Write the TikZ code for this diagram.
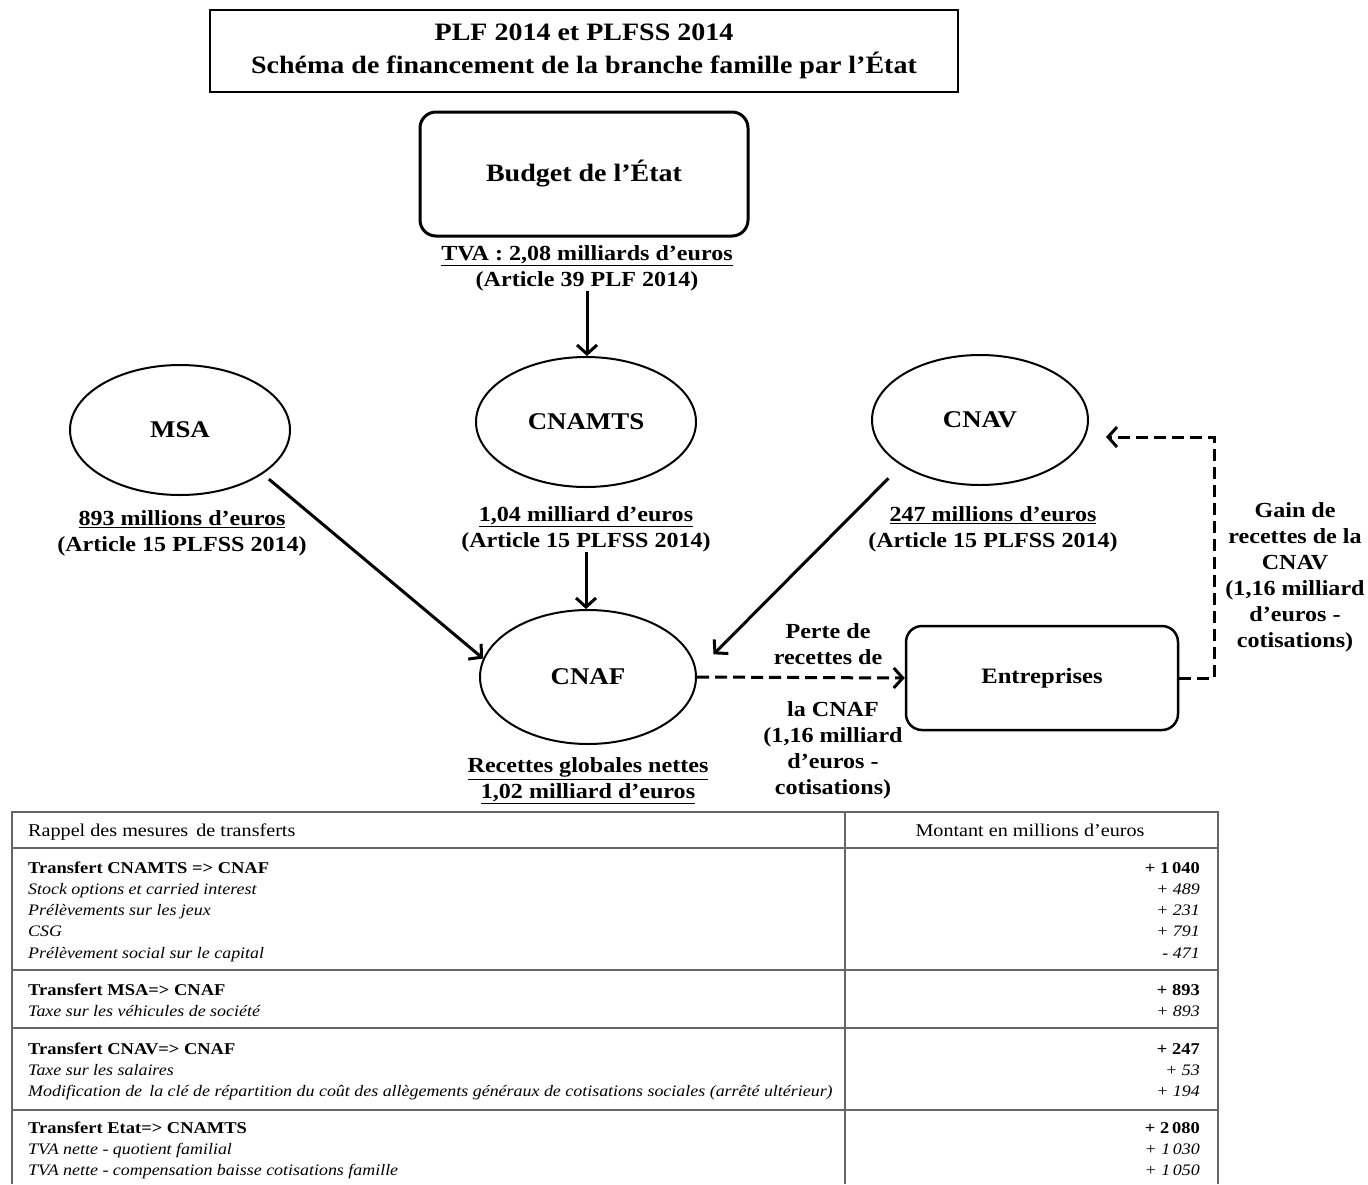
\documentclass[tikz,border=0pt]{standalone}
\usepackage{fontspec}
\setmainfont[FakeStretch=1.12]{Liberation Serif}
\usetikzlibrary{shapes.geometric,arrows.meta,positioning}
\tikzset{oval/.style={ellipse, draw, line width=2pt,
         minimum width=220pt, minimum height=130pt,
         font=\fontsize{24}{30}\selectfont\bfseries}}
\tikzset{roundbox/.style={draw, rounded corners=16pt,
         font=\fontsize{25}{30}\selectfont\bfseries}}
\tikzset{lbl/.style={align=center, inner sep=0pt,
         font=\fontsize{21.5}{26}\selectfont\bfseries}}
\tikzset{flow/.style={line width=3pt,
         -{Straight Barb[length=9pt,width=20pt,line width=3pt]}}}
\tikzset{dflow/.style={flow, dash pattern=on 12pt off 6pt}}
\tikzset{cell/.style={anchor=base west, inner sep=0pt,
         font=\fontsize{16}{20}\selectfont}}
\tikzset{cellval/.style={anchor=base east, inner sep=0pt,
         font=\fontsize{16}{20}\selectfont}}

\begin{document}
\begin{tikzpicture}[x=1pt,y=-1pt]
\useasboundingbox (0,0) rectangle (1368,1184);

\node [draw, line width=1.5pt, minimum width=748pt, minimum height=82pt,
       align=center, font=\fontsize{25}{33}\selectfont\bfseries] (title) at (584,51)
      {PLF 2014 et PLFSS 2014\\Schéma de financement de la branche famille par l’État};

\node [roundbox, line width=3pt, minimum width=328pt, minimum height=124pt] (etat) at (584,174) {Budget de l’État};
\node [lbl] (tva) at (587,268) {\underline{TVA : 2,08 milliards d’euros}\\(Article 39 PLF 2014)};

\node [oval] (msa) at (180,430) {MSA};
\node [oval] (cnamts) at (586,422) {CNAMTS};
\node [oval, minimum width=216pt] (cnav) at (980,420) {CNAV};
\node [oval, minimum width=216pt, minimum height=134pt] (cnaf) at (588,677) {CNAF};
\node [roundbox, line width=2.5pt, minimum width=272pt, minimum height=104pt,
       font=\fontsize{22}{28}\selectfont\bfseries] (ent) at (1042,678) {Entreprises};

\node [lbl] (msal) at (182,533) {\underline{893 millions d’euros}\\(Article 15 PLFSS 2014)};
\node [lbl] (cnamtsl) at (586,529) {\underline{1,04 milliard d’euros}\\(Article 15 PLFSS 2014)};
\node [lbl] (cnavl) at (993,529) {\underline{247 millions d’euros}\\(Article 15 PLFSS 2014)};
\node [lbl] (cnafl) at (588,781) {\underline{Recettes globales nettes}\\\underline{1,02 milliard d’euros}};

\node [lbl] (perte) at (828,644) {Perte de\\recettes de};
\node [lbl] (perte2) at (833,750) {la CNAF\\(1,16 milliard\\d’euros -\\cotisations)};
\node [lbl] (gain) at (1295,577) {Gain de\\recettes de la\\CNAV\\(1,16 milliard\\d’euros -\\cotisations)};
\coordinate (turn) at (1214,437);

% flux
\draw [flow] (tva.south) -- (tva.south |- cnamts.north);
\draw [flow, shorten <=8pt] (msa.-28) -- (cnaf.170);
\draw [flow] (cnamtsl.south) -- (cnamtsl.south |- cnaf.north);
\draw [flow, shorten <=18pt, shorten >=24pt] (cnav.-150) -- (cnaf.3);
\draw [dflow] (cnaf.east) -- (ent.west);
\draw [dflow, shorten >=17pt] (ent.east) -| (turn) -- (turn -| cnav.east);

% tableau
\draw [line width=2pt, gray!80!black] (12,1184) -- (12,812) -- (1218,812) -- (1218,1184);
\draw [line width=2pt, gray!80!black] (845,812) -- (845,1184);
\foreach \y in {848,970,1028,1110}
  \draw [line width=2pt, gray!80!black] (12,\y) -- (1218,\y);

\node [cell, font=\fontsize{18}{20}\selectfont] (head1) at (28,836) {Rappel des mesures\, de transferts};
\node [cell, anchor=base, font=\fontsize{18}{20}\selectfont] (head2) at (1030,836) {Montant en millions d’euros};

\foreach \y/\txt/\val [count=\i] in {
  868/Transfert CNAMTS => CNAF/+ 1\,040,
  990/Transfert MSA=> CNAF/+ 893,
  1049/Transfert CNAV=> CNAF/+ 247,
  1128/Transfert Etat=> CNAMTS/+ 2\,080}
{
  \node [cell, font=\fontsize{16.5}{20}\selectfont\bfseries] (grp\i) at (28,\y+5) {\txt};
  \node [cellval, font=\fontsize{16.5}{20}\selectfont\bfseries] (grpv\i) at (1200,\y+5) {\val};
}

\foreach \y/\txt/\val [count=\i] in {
  889/Stock options et carried interest/+ 489,
  910/Prélèvements sur les jeux/+ 231,
  931/CSG/+ 791,
  953/Prélèvement social sur le capital/- 471,
  1011/Taxe sur les véhicules de société/+ 893,
  1070/Taxe sur les salaires/+ 53,
  1091/Modification de\, la clé de répartition du coût des allègements généraux de cotisations sociales (arrêté ultérieur)/+ 194,
  1149/TVA nette - quotient familial/+ 1\,030,
  1170/TVA nette - compensation baisse cotisations famille/+ 1\,050}
{
  \node [cell, font=\fontsize{16}{20}\selectfont\itshape] (it\i) at (28,\y+5) {\txt};
  \node [cellval, font=\fontsize{16}{20}\selectfont\itshape] (itv\i) at (1200,\y+5) {\val};
}
\end{tikzpicture}
\end{document}
